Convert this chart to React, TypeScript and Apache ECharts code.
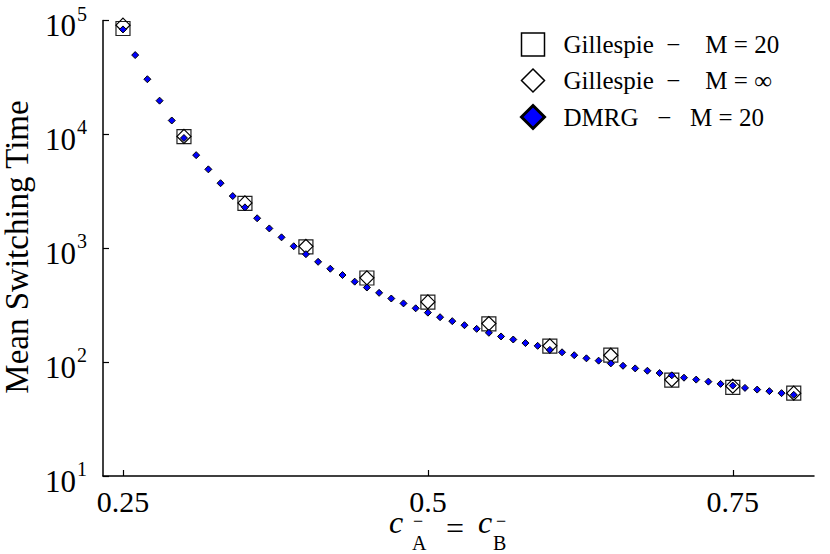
import React, { useEffect, useRef } from "react";
import * as echarts from "echarts";

const FONT = "'Liberation Serif', 'DejaVu Serif', serif";

// Gillespie sample points
const gillespieX = [0.25, 0.3, 0.35, 0.4, 0.45, 0.5, 0.55, 0.6, 0.65, 0.7, 0.75, 0.8];
const gillespieM20 = [85100, 9550, 2480, 1030, 548, 337, 217, 138, 115, 69.5, 60.0, 53.4];
const gillespieMInf = [91000, 9600, 2500, 1040, 550, 338, 218, 139, 115, 70.0, 61.5, 53.4];

// DMRG points
const dmrgX = [
  0.25, 0.26, 0.27, 0.28, 0.29, 0.3, 0.31, 0.32, 0.33, 0.34, 0.35, 0.36, 0.37, 0.38,
  0.39, 0.4, 0.41, 0.42, 0.43, 0.44, 0.45, 0.46, 0.47, 0.48, 0.49, 0.5, 0.51, 0.52,
  0.53, 0.54, 0.55, 0.56, 0.57, 0.58, 0.59, 0.6, 0.61, 0.62, 0.63, 0.64, 0.65, 0.66,
  0.67, 0.68, 0.69, 0.7, 0.71, 0.72, 0.73, 0.74, 0.75, 0.76, 0.77, 0.78, 0.79, 0.8,
];
const dmrgM20 = [
  83500, 49700, 30500, 19770, 13240, 9290, 6570, 4930, 3725, 2873, 2286, 1834, 1493, 1247,
  1041, 887, 760, 661, 582, 509, 452, 406, 362, 328, 297, 272, 248, 229,
  211, 196, 181, 168, 158, 147, 139, 128, 122, 115, 108, 103, 97.5, 92.9,
  88.1, 84.0, 80.2, 76.6, 73.0, 70.2, 67.4, 64.4, 62.2, 59.4, 57.4, 55.6, 53.4, 51.6,
];

const xTicks = [0.25, 0.5, 0.75];

const NB = "\u00A0";
const names = [
  `Gillespie${NB}${NB}\u2212${NB}${NB}${NB}${NB}M${NB}=${NB}20`,
  `Gillespie${NB}${NB}\u2212${NB}${NB}${NB}${NB}M${NB}=${NB}\u221E`,
  `DMRG${NB}${NB}${NB}\u2212${NB}${NB}${NB}M${NB}=${NB}20`,
];

function pairs(xs: number[], ys: number[]) {
  return xs.map((x, i) => [x, ys[i]]);
}

export default function App() {
  const ref = useRef<HTMLDivElement>(null);
  useEffect(() => {
    if (!ref.current) return;
    const chart = echarts.init(ref.current, null, { renderer: "svg" });
    const option: any = {
      animation: false,
      backgroundColor: "#fff",
      grid: { left: 103, right: 16, top: 16, bottom: 78 },
      xAxis: {
        type: "value",
        min: 0.23361,
        max: 0.8166,
        axisLine: { show: true, lineStyle: { color: "#000", width: 1.5 } },
        axisTick: { show: true, inside: true, length: 6, customValues: xTicks, lineStyle: { color: "#000", width: 1.2 } },
        axisLabel: {
          customValues: xTicks,
          formatter: (v: number) => String(v),
          fontFamily: FONT,
          fontSize: 30,
          lineHeight: 24,
          color: "#000",
          margin: 13,
        },
        splitLine: { show: false },
      },
      yAxis: {
        type: "log",
        logBase: 10,
        min: 10,
        max: 100000,
        axisLine: { show: true, lineStyle: { color: "#000", width: 1.5 } },
        axisTick: { show: true, inside: true, length: 6, lineStyle: { color: "#000", width: 1.2 } },
        minorTick: { show: false },
        axisLabel: {
          margin: 16,
          formatter: (v: number) => `{b|10}{s|${Math.round(Math.log10(v))}}`,
          rich: {
            b: { fontFamily: FONT, fontSize: 31, lineHeight: 31, color: "#000", padding: [10, 0, 0, 0] },
            s: { fontFamily: FONT, fontSize: 20, lineHeight: 20, color: "#000", padding: [0, 0, 14, 1] },
          },
        },
        splitLine: { show: false },
      },
      legend: {
        orient: "vertical",
        left: 520,
        top: 32,
        padding: 0,
        itemWidth: 23,
        itemHeight: 23,
        itemGap: 11,
        textStyle: { fontFamily: FONT, fontSize: 25, color: "#000", padding: [0, 0, 0, 14] },
        data: [
          { name: names[0], icon: "rect", itemStyle: { color: "rgba(0,0,0,0)", borderColor: "#000", borderWidth: 1.5, opacity: 1 } },
          { name: names[1], icon: "diamond", itemStyle: { color: "#fff", borderColor: "#000", borderWidth: 1.5, opacity: 1 } },
          { name: names[2], icon: "diamond", itemStyle: { color: "#0000ff", borderColor: "#000", borderWidth: 3, opacity: 1 } },
        ],
      },
      series: [
        {
          name: names[0],
          type: "scatter",
          symbol: "rect",
          symbolSize: 14,
          data: pairs(gillespieX, gillespieM20),
          itemStyle: { color: "rgba(0,0,0,0)", borderColor: "#222", borderWidth: 1.2, opacity: 1 },
          z: 2,
        },
        {
          name: names[1],
          type: "scatter",
          symbol: "diamond",
          symbolSize: 14,
          data: pairs(gillespieX, gillespieMInf),
          itemStyle: { color: "rgba(0,0,0,0)", borderColor: "#000", borderWidth: 1.2, opacity: 1 },
          z: 3,
        },
        {
          name: names[2],
          type: "scatter",
          symbol: "diamond",
          symbolSize: 7,
          data: pairs(dmrgX, dmrgM20),
          itemStyle: { color: "#0000ff", borderColor: "#000", borderWidth: 1, opacity: 1 },
          z: 4,
        },
      ],
      graphic: [
        {
          type: "text",
          x: 17,
          y: 247,
          rotation: Math.PI / 2,
          style: { text: "Mean Switching Time", font: `33px ${FONT}`, fill: "#000", align: "center", verticalAlign: "middle" },
        },
        { type: "text", x: 389, y: 522, style: { text: "c", font: `italic 32px ${FONT}`, fill: "#000", align: "left", verticalAlign: "middle" } },
        { type: "text", x: 412, y: 543, style: { text: "A", font: `20px ${FONT}`, fill: "#000", align: "left", verticalAlign: "middle" } },
        { type: "text", x: 413, y: 521, style: { text: "\u2212", font: `18px ${FONT}`, lineHeight: 8, fill: "#000", align: "left", verticalAlign: "middle" } },
        { type: "text", x: 446, y: 528, style: { text: "=", font: `32px ${FONT}`, fill: "#000", align: "left", verticalAlign: "middle" } },
        { type: "text", x: 478, y: 522, style: { text: "c", font: `italic 32px ${FONT}`, fill: "#000", align: "left", verticalAlign: "middle" } },
        { type: "text", x: 493, y: 543, style: { text: "B", font: `20px ${FONT}`, fill: "#000", align: "left", verticalAlign: "middle" } },
        { type: "text", x: 496, y: 521, style: { text: "\u2212", font: `18px ${FONT}`, lineHeight: 8, fill: "#000", align: "left", verticalAlign: "middle" } },
      ],
    };
    chart.setOption(option);
    return () => chart.dispose();
  }, []);
  return <div ref={ref} style={{ position: "absolute", left: 0, top: 0, width: 830, height: 554 }} />;
}
